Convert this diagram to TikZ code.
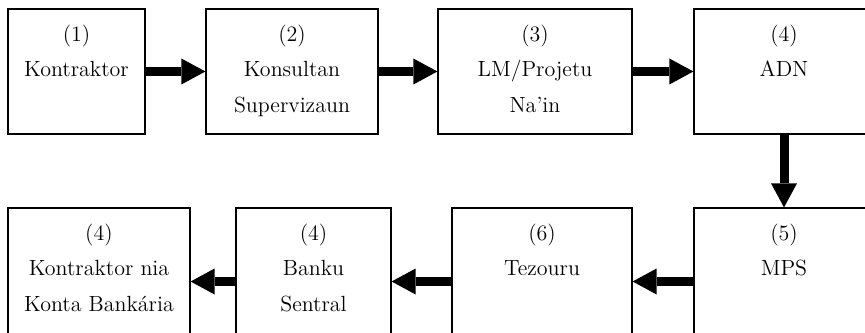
\documentclass[tikz,border=0pt]{standalone}
\usepackage{tikz}
\usetikzlibrary{arrows.meta}

\begin{document}
\begin{tikzpicture}[box/.style = {draw, line width=0.7pt,
        label={[anchor=north, align=center, yshift=-0.2cm, font=\fontsize{12.5}{20.4}\selectfont]north:#1}},
    flow/.style = {line width=0.18cm, -{Triangle[line width=0pt, length=0.48cm, width=0.52cm]}}]
    \clip (0,0) rectangle (17.3,6.64);
    \node[box={(1)\\Kontraktor}, minimum width=2.74cm, minimum height=2.5cm] (kontraktor) at (1.53,5.21) {};
    \node[box={(2)\\Konsultan\\Supervizaun}, minimum width=3.44cm, minimum height=2.5cm] (konsultan) at (5.84,5.21) {};
    \node[box={(3)\\LM/Projetu\\Na'in}, minimum width=3.88cm, minimum height=2.5cm] (projetu) at (10.7,5.21) {};
    \node[box={(4)\\ADN}, minimum width=3.6cm, minimum height=2.5cm] (adn) at (15.68,5.21) {};
    \node[box={(5)\\MPS}, minimum width=3.6cm, minimum height=2.94cm] (mps) at (15.68,1.01) {};
    \node[box={(6)\\Tezouru}, minimum width=3.6cm, minimum height=2.94cm] (tezouru) at (10.84,1.01) {};
    \node[box={(4)\\Banku\\Sentral}, minimum width=3.1cm, minimum height=2.94cm] (banku) at (6.27,1.01) {};
    \node[box={(4)\\Kontraktor nia\\Konta Bankária}, minimum width=3.64cm, minimum height=2.94cm] (konta) at (1.98,1.01) {};
    \path[flow] (kontraktor) edge (konsultan);
    \path[flow] (konsultan) edge (projetu);
    \path[flow] (projetu) edge (adn);
    \path[flow] (adn) edge (mps);
    \path[flow] (mps) edge (tezouru);
    \path[flow] (tezouru) edge (banku);
    \path[flow] (banku) edge (konta);
\end{tikzpicture}
\end{document}
